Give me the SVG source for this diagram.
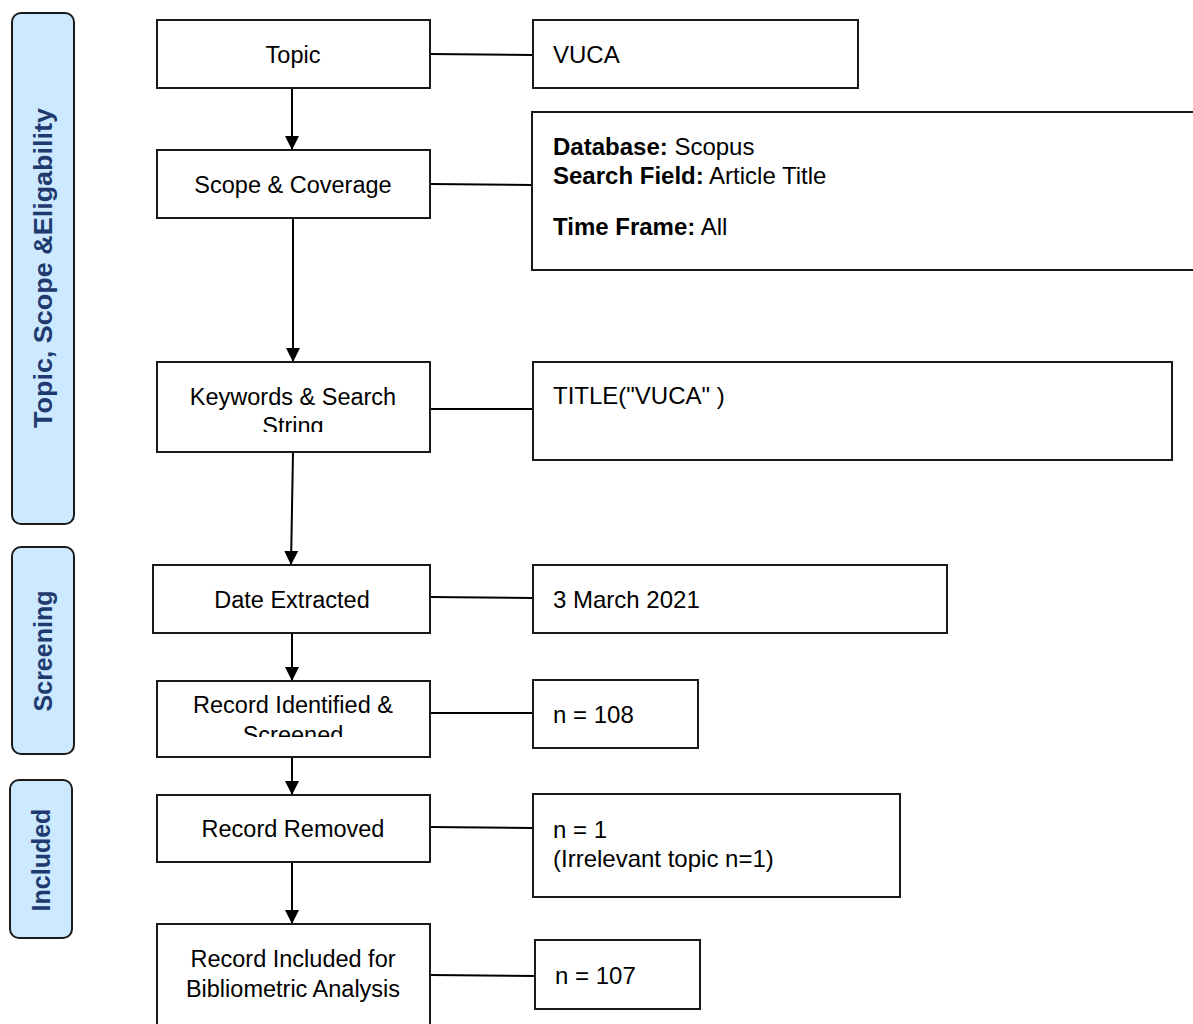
<svg xmlns="http://www.w3.org/2000/svg" width="1193" height="1024" viewBox="0 0 1193 1024">
<defs>
<style>
.box{fill:#fff;stroke:#1a1a1a;stroke-width:2}
.phase{fill:#cce9ff;stroke:#1a1a1a;stroke-width:2}
.pt{font-family:"Liberation Sans",Arial,sans-serif;font-weight:bold;font-size:25px;fill:#1f3a6e;text-anchor:middle}
.lt{font-family:"Liberation Sans",Arial,sans-serif;font-size:23.5px;fill:#000;text-anchor:middle}
.rt{font-family:"Liberation Sans",Arial,sans-serif;font-size:24px;fill:#000}
.b{font-weight:bold}
.ln{stroke:#000;stroke-width:2;fill:none}
</style>
<marker id="ah" markerUnits="userSpaceOnUse" markerWidth="16" markerHeight="16" refX="14" refY="7" orient="auto">
<path d="M0,0 L14,7 L0,14 Z" fill="#000"/>
</marker>
<clipPath id="c1"><rect x="157" y="362" width="273" height="70"/></clipPath>
<clipPath id="c2"><rect x="157" y="681" width="273" height="56"/></clipPath>
</defs>

<g id="phase-topic">
<rect class="phase" x="12" y="13" width="62" height="511" rx="9"/>
<text class="pt" transform="translate(52,268) rotate(-90)" textLength="320" lengthAdjust="spacingAndGlyphs">Topic, Scope &amp;Eligability</text>
</g>
<g id="phase-screening">
<rect class="phase" x="12" y="547" width="62" height="207" rx="9"/>
<text class="pt" transform="translate(52,651) rotate(-90)">Screening</text>
</g>
<g id="phase-included">
<rect class="phase" x="10" y="780" width="62" height="158" rx="9"/>
<text class="pt" transform="translate(50,860) rotate(-90)">Included</text>
</g>

<g id="connectors">
<line class="ln" x1="292" y1="88" x2="292" y2="150" marker-end="url(#ah)"/>
<line class="ln" x1="293" y1="218" x2="293" y2="362" marker-end="url(#ah)"/>
<line class="ln" x1="293" y1="452" x2="291" y2="565" marker-end="url(#ah)"/>
<line class="ln" x1="292" y1="633" x2="292" y2="681" marker-end="url(#ah)"/>
<line class="ln" x1="292" y1="757" x2="292" y2="795" marker-end="url(#ah)"/>
<line class="ln" x1="292" y1="862" x2="292" y2="924" marker-end="url(#ah)"/>
<line class="ln" x1="430" y1="54" x2="533" y2="55"/>
<line class="ln" x1="430" y1="184" x2="532" y2="185"/>
<line class="ln" x1="430" y1="409" x2="533" y2="409"/>
<line class="ln" x1="430" y1="597" x2="533" y2="598"/>
<line class="ln" x1="430" y1="713" x2="533" y2="713"/>
<line class="ln" x1="430" y1="827" x2="533" y2="828"/>
<line class="ln" x1="430" y1="975" x2="535" y2="976"/>
</g>

<g id="topic">
<rect class="box" x="157" y="20" width="273" height="68"/>
<text class="lt" x="293" y="63">Topic</text>
</g>
<g id="vuca">
<rect class="box" x="533" y="20" width="325" height="68"/>
<text class="rt" x="553" y="63">VUCA</text>
</g>
<g id="scope">
<rect class="box" x="157" y="150" width="273" height="68"/>
<text class="lt" x="293" y="193">Scope &amp; Coverage</text>
</g>
<g id="database">
<rect class="box" x="532" y="112" width="670" height="158"/>
<text class="rt" x="553" y="155"><tspan class="b">Database:</tspan> Scopus</text>
<text class="rt" x="553" y="184"><tspan class="b">Search Field:</tspan> Article Title</text>
<text class="rt" x="553" y="235"><tspan class="b">Time Frame:</tspan> All</text>
</g>
<g id="keywords">
<rect class="box" x="157" y="362" width="273" height="90"/>
<g clip-path="url(#c1)">
<text class="lt" x="293" y="405">Keywords &amp; Search</text>
<text class="lt" x="293" y="434">String</text>
</g>
</g>
<g id="title-string">
<rect class="box" x="533" y="362" width="639" height="98"/>
<text class="rt" x="553" y="404">TITLE("VUCA" )</text>
</g>
<g id="date">
<rect class="box" x="153" y="565" width="277" height="68"/>
<text class="lt" x="292" y="608">Date Extracted</text>
</g>
<g id="date-value">
<rect class="box" x="533" y="565" width="414" height="68"/>
<text class="rt" x="553" y="608">3 March 2021</text>
</g>
<g id="identified">
<rect class="box" x="157" y="681" width="273" height="76"/>
<g clip-path="url(#c2)">
<text class="lt" x="293" y="713">Record Identified &amp;</text>
<text class="lt" x="293" y="743">Screened</text>
</g>
</g>
<g id="identified-value">
<rect class="box" x="533" y="680" width="165" height="68"/>
<text class="rt" x="553" y="723">n = 108</text>
</g>
<g id="removed">
<rect class="box" x="157" y="795" width="273" height="67"/>
<text class="lt" x="293" y="837">Record Removed</text>
</g>
<g id="removed-value">
<rect class="box" x="533" y="794" width="367" height="103"/>
<text class="rt" x="553" y="838">n = 1</text>
<text class="rt" x="553" y="867">(Irrelevant topic n=1)</text>
</g>
<g id="included">
<rect class="box" x="157" y="924" width="273" height="110"/>
<text class="lt" x="293" y="967">Record Included for</text>
<text class="lt" x="293" y="997">Bibliometric Analysis</text>
</g>
<g id="included-value">
<rect class="box" x="535" y="940" width="165" height="69"/>
<text class="rt" x="555" y="984">n = 107</text>
</g>
</svg>
